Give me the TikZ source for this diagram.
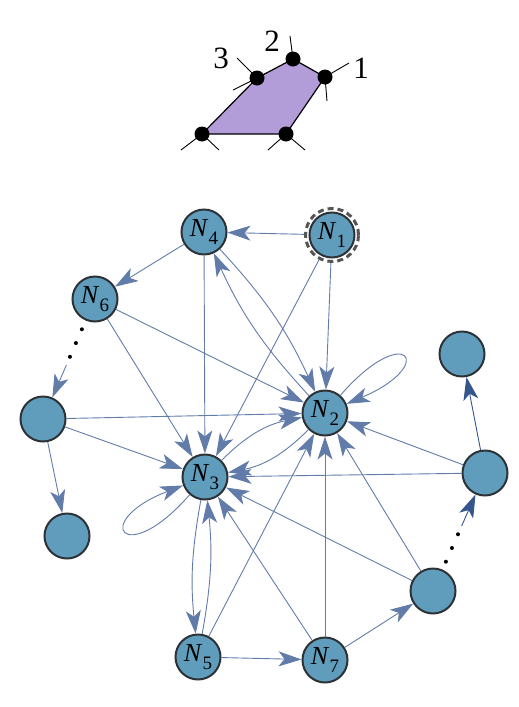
\documentclass[tikz,border=0pt]{standalone}
\usepackage{fontspec}
\setmainfont{Liberation Serif}
\usetikzlibrary{arrows.meta,calc}

\definecolor{vfill}{RGB}{96,157,189}
\definecolor{vborder}{RGB}{45,50,55}
\definecolor{ecolor}{RGB}{98,124,170}
\definecolor{dcolor}{RGB}{52,86,140}
\definecolor{facecolor}{RGB}{178,157,217}
\definecolor{ringcolor}{RGB}{85,85,85}

\newcommand{\nlab}[1]{\textit{N}\raisebox{-0.28em}{\fontsize{19}{19}\selectfont #1}}

\tikzset{
  vertex/.style={circle, draw=vborder, fill=vfill, line width=2pt,
    minimum size=45pt, inner sep=0pt, font=\fontsize{26}{26}\selectfont},
  ring/.style={circle, draw=ringcolor, line width=3pt, minimum size=53pt,
    inner sep=0pt, dash pattern=on 6pt off 4pt},
  link/.style={draw=ecolor, line width=0.9pt,
    -{Stealth[length=23pt, width=15pt, inset=6pt]}},
  darklink/.style={link, draw=dcolor},
  face/.style={fill=facecolor, draw=black, line width=1.2pt},
  leg/.style={draw=black, line width=0.9pt},
  digit/.style={font=\fontsize{31}{31}\selectfont}
}

\begin{document}
\begin{tikzpicture}[x=1pt, y=1pt]
  \useasboundingbox (0,0) rectangle (519,-707);
  % polygon
  \coordinate (v1) at (325,-77);
  \coordinate (v2) at (293,-59);
  \coordinate (v3) at (257,-78);
  \coordinate (v4) at (202,-134);
  \coordinate (v5) at (286,-134);
  \filldraw [face] (v1) -- (v2) -- (v3) -- (v4) -- (v5) -- cycle;
  \draw [leg] (v1) -- ++(24,14);
  \draw [leg] (v1) -- ++(2,-24);
  \draw [leg] (v2) -- ++(-3,23);
  \draw [leg] (v3) -- ++(-20,20);
  \draw [leg] (v3) -- ++(-24,-12);
  \draw [leg] (v4) -- ++(-21,-16);
  \draw [leg] (v4) -- ++(17,-16);
  \draw [leg] (v5) -- ++(-18,-16);
  \draw [leg] (v5) -- ++(19,-16);
  \foreach \v in {v1,v2,v3,v4,v5}
    \fill (\v) circle (7.5);
  \node [digit] (d3) at (221,-58) {3};
  \node [digit] (d2) at (272,-41) {2};
  \node [digit] (d1) at (361,-68) {1};

  % graph nodes
  \node [vertex] (N1) at (332,-235) {\nlab{1}};
  \node [ring] (N1r) at (N1) {};
  \node [vertex] (N4) at (204,-232) {\nlab{4}};
  \node [vertex] (N6) at (95,-299) {\nlab{6}};
  \node [vertex] (W) at (43,-419) {};
  \node [vertex] (SW) at (67,-536) {};
  \node [vertex] (N3) at (205,-477) {\nlab{3}};
  \node [vertex] (N2) at (325,-413) {\nlab{2}};
  \node [vertex] (NE) at (462,-354) {};
  \node [vertex] (E) at (485,-473) {};
  \node [vertex] (SE) at (433,-591) {};
  \node [vertex] (N5) at (198,-657) {\nlab{5}};
  \node [vertex] (N7) at (325,-660) {\nlab{7}};

  % edges
  \draw [link] (N1r) -- (N4);
  \draw [link] (N1r) -- (N3);
  \draw [link] (N1r) -- (N2);
  \draw [link] (N4) -- (N6);
  \draw [link] (N4) -- (N3);
  \draw [link] (N4) to[bend left=9] (N2);
  \draw [link] (N2) to[bend left=9] (N4);
  \draw [link] (N6) -- (N3);
  \draw [link] (N6) -- (N2);
  \draw [link] (W) -- (N2);
  \draw [link] (W) -- (N3);
  \draw [link] (W) -- (SW);
  \draw [link] (N3) to[bend left=17] (N2);
  \draw [link] (N2) to[bend left=17] (N3);
  \draw [link] (N2) to[out=49, in=23, distance=100pt] (N2);
  \draw [link] (N3) to[out=229, in=201, distance=100pt] (N3);
  \draw [link] (N3) to[bend right=8] (N5);
  \draw [link] (N5) to[bend right=8] (N3);
  \draw [link] (N5) -- (N7);
  \draw [link] (N5) -- (N2);
  \draw [link] (N7) -- (N3);
  \draw [link] (N7) -- (N2);
  \draw [link] (N7) -- (SE);
  \draw [link] (SE) -- (N3);
  \draw [link] (SE) -- (N2);
  \draw [link] (E) -- (N3);
  \draw [link] (E) -- (N2);
  \draw [darklink] (E) -- (NE);

  % dotted gaps
  \foreach \d in {33pt,48pt,63pt}
    \fill ($(N6)!\d!(W)$) circle (2);
  \coordinate (N6W) at ($(N6)!72pt!(W)$);
  \draw [link] (N6W) -- (W);
  \foreach \d in {32pt,47pt,62pt}
    \fill ($(SE)!\d!(E)$) circle (2);
  \coordinate (SEE) at ($(SE)!71pt!(E)$);
  \draw [darklink] (SEE) -- (E);
\end{tikzpicture}
\end{document}
